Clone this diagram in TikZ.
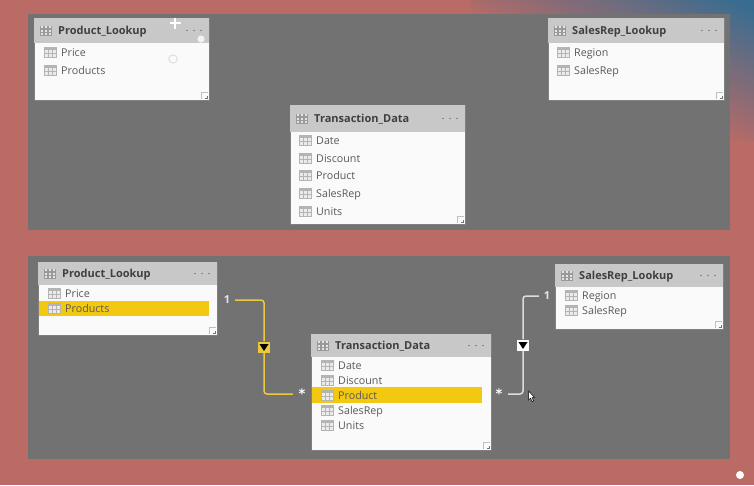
\documentclass[tikz,border=0pt]{standalone}
\usepackage{fontspec}
\setmainfont{Open Sans}
\newfontfamily\blobfont{DejaVu Sans}
\usepackage{xcolor}
\usetikzlibrary{calc, positioning}
\definecolor{bgRed}{HTML}{BA6B65}
\definecolor{bgBlue}{HTML}{3A6C90}
\definecolor{panelGray}{HTML}{727272}
\definecolor{headGray}{HTML}{C8C8C8}
\definecolor{iconGray}{HTML}{B4B4B4}
\definecolor{hiYellow}{HTML}{F2C811}
\definecolor{relYellow}{HTML}{EBC83C}
\definecolor{relWhite}{HTML}{DCDCDC}
\pgfdeclareverticalshading{cornerFade}{100bp}{color(0bp)=(bgRed); color(36bp)=(bgRed); color(59bp)=(bgBlue); color(100bp)=(bgBlue)}
\tikzset{
    panel/.style={rectangle, fill=panelGray, draw=none, anchor=north west, inner sep=0pt, outer sep=0pt},
    card/.style={rectangle, draw=black!50, line width=0.8pt, fill=white!98!black, anchor=north west, inner sep=0pt, outer sep=0pt},
    cardHead/.style={rectangle, fill=headGray, anchor=north west, inner sep=0pt, outer sep=0pt},
    cardTitle/.style={anchor=base west, inner sep=0pt, font=\fontsize{11}{12}\selectfont\bfseries, text=black!75},
    fieldText/.style={anchor=base west, inner sep=0pt, font=\fontsize{10.7}{12}\selectfont, text=black!65},
    hilite/.style={rectangle, fill=hiYellow, anchor=north west, inner sep=0pt, outer sep=0pt},
    oneEnd/.style={font=\fontsize{11}{12}\selectfont\bfseries, text=white!90!black, minimum width=16pt, inner sep=0pt},
    manyEnd/.style={font=\blobfont\fontsize{13}{13}\selectfont\bfseries, text=white, minimum width=18pt, minimum height=8pt, inner sep=0pt},
    relMark/.style={rectangle, minimum width=12pt, minimum height=11pt, inner sep=0pt, path picture={\fill[black] ($(path picture bounding box.center)+(-4.5,-3)$) -- ++(9,0) -- ++(-4.5,7) -- cycle;}},
    rel/.style={line width=1.5pt, rounded corners=3pt},
    tblIcon/.pic={
        \fill[iconGray] (-6.5,-5.5) rectangle (6.5,5.5);
        \foreach \cx in {-5.5,-1.4,2.7}
            \foreach \cy in {-1.8,2}
                \fill[white!92!black] (\cx,\cy) rectangle ++(3.5,2.7);
    },
    headIcon/.pic={
        \fill[black!40] (-6,-5) rectangle (6,5);
        \foreach \cx in {-5.3,-1.3,2.7}
            \foreach \cy in {-4.3,-0.9,2.4}
                \fill[white!90!black] (\cx,\cy) rectangle ++(2.7,2);
    }
}
% one table card: name, x, y, width, height, head height, title
\newcommand{\tableCard}[7]{
    \node[card, minimum width=#4pt, minimum height=#5pt] (#1) at (#2,#3) {};
    \node[cardHead, minimum width=#4pt, minimum height=#6pt] (#1Head) at (#2,#3) {};
    \pic at ($(#1Head.west)+(12,0)$) {headIcon};
    \node[cardTitle] (#1Title) at ($(#1Head.west)+(24,3.6)$) {#7};
    \foreach \dx in {-22,-15,-8}
        \fill[black!50] ($(#1Head.east)+(\dx,0)$) circle (0.8);
    \draw[black!25, line width=0.5pt] ($(#1.south east)+(-8,-1)$) -- ++(0,-7) -- ++(7,0);
    \draw[black!55, line width=0.6pt] ($(#1.south east)+(-4,-2)$) -- ++(2,0) -- ++(0,-2);
}
% one field row: x of icon centre, y, text
\newcommand{\fieldRow}[3]{
    \pic at (#1,#2) {tblIcon};
    \node[fieldText] at (#1+11,#2+4) {#3};
}
\begin{document}
\begin{tikzpicture}[x=1pt, y=-1pt]
    \useasboundingbox (0,0) rectangle (754,485);
    % Backdrop
    \fill[bgRed] (0,0) rectangle (754,485);
    \begin{scope}
        \clip (440,0) rectangle (754,140);
        \shade[shading=cornerFade, shading angle=-26] (470,-144) rectangle (754,140);
    \end{scope}
    \node[panel, minimum width=702pt, minimum height=216pt] (panelTop) at (28,14) {};
    \node[panel, minimum width=702pt, minimum height=203pt] (panelBot) at (28,256) {};

    % Upper panel
    \tableCard{prodTop}{34}{18}{175}{82}{25}{Product\_Lookup}
    \fieldRow{50}{52}{Price}
    \fieldRow{50}{70}{Products}
    \tableCard{repTop}{548}{18}{176}{82}{25}{SalesRep\_Lookup}
    \fieldRow{563}{52}{Region}
    \fieldRow{563}{70}{SalesRep}
    \tableCard{transTop}{290}{105}{175}{119}{27}{Transaction\_Data}
    \fieldRow{305}{140}{Date}
    \fieldRow{305}{158}{Discount}
    \fieldRow{305}{175}{Product}
    \fieldRow{305}{193}{SalesRep}
    \fieldRow{305}{211}{Units}

    % Pointer marks on the first card
    \draw[white, line width=1.2pt] (169.5,23) -- (180.5,23) (175,17.5) -- (175,28.5);
    \fill[white!95!black] (201,39) circle (3.6);
    \draw[white!85!black, line width=0.8pt] (173,59) circle (4.2);

    % Lower panel
    \tableCard{prodBot}{38}{262}{179}{73}{23}{Product\_Lookup}
    \node[hilite, minimum width=170pt, minimum height=15pt] (hiProd) at (39,301) {};
    \fieldRow{54}{293}{Price}
    \fieldRow{54}{308}{Products}
    \tableCard{repBot}{555}{264}{168}{65}{23}{SalesRep\_Lookup}
    \fieldRow{571}{295}{Region}
    \fieldRow{571}{310}{SalesRep}
    \tableCard{transBot}{311}{334}{180}{116}{23}{Transaction\_Data}
    \node[hilite, minimum width=170pt, minimum height=16pt] (hiTrans) at (312,387) {};
    \fieldRow{327}{365}{Date}
    \fieldRow{327}{380}{Discount}
    \fieldRow{327}{395}{Product}
    \fieldRow{327}{410}{SalesRep}
    \fieldRow{327}{425}{Units}

    % Relationships
    \node[oneEnd] (oneProd) at (227,300) {1};
    \node[manyEnd] (manyProd) at (302,394) {\raisebox{-4.5pt}{*}};
    \node[relMark, fill=relYellow] (markProd) at (264,347) {};
    \draw[rel, relYellow] (oneProd) -| (markProd);
    \draw[rel, relYellow] (markProd) |- (manyProd);

    \node[oneEnd] (oneRep) at (547,296) {1};
    \node[manyEnd] (manyRep) at (499,394) {\raisebox{-4.5pt}{*}};
    \node[relMark, fill=white] (markRep) at (523,345) {};
    \draw[rel, relWhite] (oneRep) -| (markRep);
    \draw[rel, relWhite] (markRep) |- (manyRep);

    % Cursor and recording dot
    \fill[white, draw=black, line width=0.5pt] (528.5,391) -- (528.5,400) -- (530.5,398.2) -- (532.2,401.5) -- (533.6,400.8) -- (532,397.6) -- (534.6,397.4) -- cycle;
    \fill[white] (740,475) circle (4);
\end{tikzpicture}
\end{document}
